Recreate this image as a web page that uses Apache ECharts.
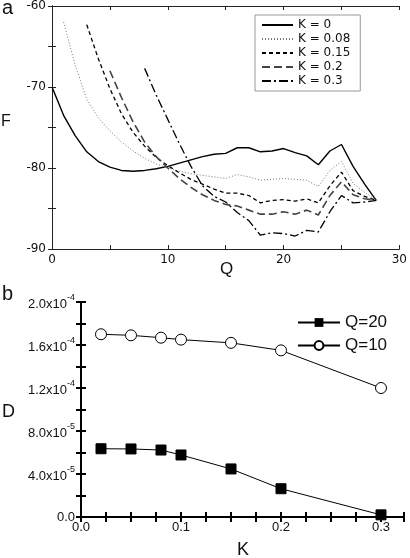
<!DOCTYPE html>
<html><head><meta charset="utf-8">
<script src="https://cdn.jsdelivr.net/npm/echarts@6/dist/echarts.min.js"></script>
<style>html,body{margin:0;padding:0;background:#fff}#c{width:410px;height:558px}</style>
</head><body><div id="c"></div>
<script>
// Panel a: F vs Q for several K
var qK0 = [0,1,2,3,4,5,6,7,8,9,10,11,12,13,14,15,16,17,18,19,20,21,22,23,24,25,26,27,28];
var fK0 = [-70,-73.5,-76,-78,-79.2,-79.9,-80.3,-80.4,-80.3,-80.1,-79.8,-79.4,-79.0,-78.6,-78.3,-78.2,-77.5,-77.5,-78.0,-77.9,-77.6,-78.1,-78.5,-79.6,-77.9,-77.1,-79.8,-82.0,-84.0];
var qK008 = [1,2,3,4,5,6,7,8,9,10,11,12,13,14,15,16,17,18,19,20,21,22,23,24,25,26,27,28];
var fK008 = [-62,-67.3,-71.5,-73.8,-75.4,-76.8,-77.9,-78.8,-79.5,-80.0,-80.4,-80.7,-80.9,-81.1,-81.3,-80.8,-81.1,-81.5,-81.4,-81.3,-81.4,-81.5,-82.3,-80.3,-79.2,-81.9,-83.0,-84.0];
var qK015 = [3,4,5,6,7,8,9,10,11,12,13,14,15,16,17,18,19,20,21,22,23,24,25,26,27,28];
var fK015 = [-62.3,-66.5,-70.2,-73.3,-75.6,-77.3,-78.7,-79.7,-80.6,-81.4,-82.0,-82.6,-83.1,-83.1,-83.4,-84.3,-84.0,-83.9,-84.1,-83.8,-84.3,-82.2,-80.5,-82.8,-83.5,-84.0];
var qK02 = [5,6,7,8,9,10,11,12,13,14,15,16,17,18,19,20,21,22,23,24,25,26,27,28];
var fK02 = [-68.0,-71.3,-74.3,-76.8,-78.6,-80.0,-81.3,-82.4,-83.3,-84.0,-84.5,-84.7,-85.2,-85.7,-85.7,-85.4,-85.7,-85.2,-85.8,-83.4,-81.7,-83.3,-83.8,-84.0];
var qK03 = [8,9,10,11,12,13,14,15,16,17,18,19,20,21,22,23,24,25,26,27,28];
var fK03 = [-67.7,-71.0,-74.0,-77.0,-79.8,-82.2,-83.5,-84.2,-85.5,-86.5,-88.3,-88.0,-88.1,-88.4,-87.7,-87.9,-85.4,-83.4,-84.3,-84.2,-84.0];
var namesA = ['K = 0','K = 0.08','K = 0.15','K = 0.2','K = 0.3'];

// Panel b: D vs K
var kVals = [0.02,0.05,0.08,0.1,0.15,0.2,0.3];
var dQ20 = [6.35e-5,6.33e-5,6.23e-5,5.77e-5,4.47e-5,2.63e-5,0.2e-5];
var dQ10 = [1.70e-4,1.69e-4,1.668e-4,1.65e-4,1.62e-4,1.55e-4,1.20e-4];
var namesB = ['Q=20','Q=10'];

function zip(a,b){return a.map(function(v,i){return [v,b[i]];});}

var chart = echarts.init(document.getElementById('c'));
var fa = 'DejaVu Sans', fb = 'Liberation Sans';
function supFmt(v){
  if (Math.abs(v) < 1e-12) return '0.0';
  var s = v.toExponential(1).split('e');
  return '{m|' + s[0] + 'x10}{s|' + parseInt(s[1],10) + '}';
}
var axA = {lineStyle:{color:'#222',width:1}};
var axB = {lineStyle:{color:'#000',width:2}};
chart.setOption({
  animation:false,
  backgroundColor:'#fff',
  grid:[
    {left:52, top:4, width:350, height:245, show:false},
    {left:81, top:302, width:323, height:215, show:false}
  ],
  xAxis:[
    {gridIndex:0, type:'value', min:0, max:30, interval:5, position:'bottom',
     axisLine:axA, axisTick:{inside:true,length:4,lineStyle:{color:'#222'}},
     splitLine:{show:false},
     axisLabel:{margin:5, color:'#111', fontFamily:fa, fontSize:12,
       formatter:function(v){return v%10===0?String(v):'';}}},
    {gridIndex:0, type:'value', min:0, max:30, interval:5, position:'top',
     axisLine:axA, axisTick:{inside:true,length:4,lineStyle:{color:'#222'}},
     splitLine:{show:false}, axisLabel:{show:false}},
    {gridIndex:1, type:'value', min:0, max:0.323, interval:0.1, position:'bottom',
     axisLine:axB, axisTick:{inside:true,length:5,lineStyle:{color:'#000',width:2}},
     minorTick:{show:true, splitNumber:4, length:5, lineStyle:{color:'#000',width:2}},
     splitLine:{show:false}, minorSplitLine:{show:false},
     axisLabel:{margin:4, color:'#111', fontFamily:fb, fontSize:13, showMaxLabel:false,
       formatter:function(v){return v.toFixed(1);}}},
    {gridIndex:1, type:'value', min:0, max:0.323, interval:0.1, position:'top',
     axisLine:axB, axisTick:{inside:true,length:5,lineStyle:{color:'#000',width:2}},
     minorTick:{show:true, splitNumber:4, length:5, lineStyle:{color:'#000',width:2}},
     splitLine:{show:false}, axisLabel:{show:false}}
  ],
  yAxis:[
    {gridIndex:0, type:'value', min:-90, max:-60, interval:5, position:'left',
     axisLine:axA, axisTick:{inside:true,length:4,lineStyle:{color:'#222'}},
     splitLine:{show:false},
     axisLabel:{margin:6, color:'#111', fontFamily:fa, fontSize:12,
       formatter:function(v){return v%10===0?String(v):'';}}},
    {gridIndex:0, type:'value', min:-90, max:-60, interval:5, position:'right',
     axisLine:axA, axisTick:{inside:true,length:4,lineStyle:{color:'#222'}},
     splitLine:{show:false}, axisLabel:{show:false}},
    {gridIndex:1, type:'value', min:0, max:2e-4, interval:4e-5, position:'left',
     axisLine:axB, axisTick:{inside:true,length:5,lineStyle:{color:'#000',width:2}},
     minorTick:{show:true, splitNumber:2, length:5, lineStyle:{color:'#000',width:2}},
     splitLine:{show:false}, minorSplitLine:{show:false},
     axisLabel:{margin:6, color:'#111', fontFamily:fb, fontSize:13, formatter:supFmt,
       rich:{m:{fontFamily:fb,fontSize:13,color:'#111',verticalAlign:'bottom'},
             s:{fontFamily:fb,fontSize:9,color:'#111',verticalAlign:'top',padding:[0,0,8,0]}}}},
    {gridIndex:1, type:'value', min:0, max:2e-4, interval:4e-5, position:'right',
     axisLine:axB, axisTick:{inside:true,length:5,lineStyle:{color:'#000',width:2}},
     minorTick:{show:true, splitNumber:2, length:5, lineStyle:{color:'#000',width:2}},
     splitLine:{show:false}, axisLabel:{show:false}}
  ],
  legend:[
    {data:namesA, left:255, top:15, orient:'vertical', width:104,
     backgroundColor:'#fff', borderColor:'#999', borderWidth:1,
     padding:[4,10,4,6], itemWidth:31, itemHeight:10, itemGap:2,
     itemStyle:{opacity:0},
     textStyle:{fontFamily:fa, fontSize:12, color:'#111', lineHeight:12}},
    {data:namesB, left:297, top:314, orient:'vertical',
     padding:0, itemWidth:42, itemHeight:11, itemGap:6,
     textStyle:{fontFamily:fb, fontSize:17, color:'#111'}}
  ],
  graphic:[
    {type:'text', left:2, top:-2, style:{text:'a', fontFamily:fb, fontSize:20, fill:'#111'}},
    {type:'text', left:2, top:284, style:{text:'b', fontFamily:fb, fontSize:20, fill:'#111'}},
    {type:'text', left:1, top:114, style:{text:'F', fontFamily:fb, fontSize:16, fill:'#111'}},
    {type:'text', left:220, top:261, style:{text:'Q', fontFamily:fb, fontSize:17, fill:'#111'}},
    {type:'text', left:2, top:403, style:{text:'D', fontFamily:fb, fontSize:18, fill:'#111'}},
    {type:'text', left:237, top:541, style:{text:'K', fontFamily:fb, fontSize:18, fill:'#111'}}
  ],
  series:[
    {name:namesA[0], type:'line', xAxisIndex:0, yAxisIndex:0, data:zip(qK0,fK0), symbol:'none',
     lineStyle:{color:'#000', width:1.4, type:'solid'}, itemStyle:{color:'#000'}},
    {name:namesA[1], type:'line', xAxisIndex:0, yAxisIndex:0, data:zip(qK008,fK008), symbol:'none',
     lineStyle:{color:'#777', width:1, type:[1,2]}, itemStyle:{color:'#777'}},
    {name:namesA[2], type:'line', xAxisIndex:0, yAxisIndex:0, data:zip(qK015,fK015), symbol:'none',
     lineStyle:{color:'#000', width:1.3, type:[4,3]}, itemStyle:{color:'#000'}},
    {name:namesA[3], type:'line', xAxisIndex:0, yAxisIndex:0, data:zip(qK02,fK02), symbol:'none',
     lineStyle:{color:'#444', width:1.6, type:[8,4]}, itemStyle:{color:'#444'}},
    {name:namesA[4], type:'line', xAxisIndex:0, yAxisIndex:0, data:zip(qK03,fK03), symbol:'none',
     lineStyle:{color:'#000', width:1.3, type:[9,3,2,3]}, itemStyle:{color:'#000'}},
    {name:namesB[0], type:'line', xAxisIndex:2, yAxisIndex:2, data:zip(kVals,dQ20),
     symbol:'rect', symbolSize:10, lineStyle:{color:'#000', width:1},
     itemStyle:{color:'#000', borderColor:'#000'}},
    {name:namesB[1], type:'line', xAxisIndex:2, yAxisIndex:2, data:zip(kVals,dQ10),
     symbol:'circle', symbolSize:11, lineStyle:{color:'#000', width:1},
     itemStyle:{color:'#fff', borderColor:'#000', borderWidth:1}}
  ]
});
</script></body></html>
